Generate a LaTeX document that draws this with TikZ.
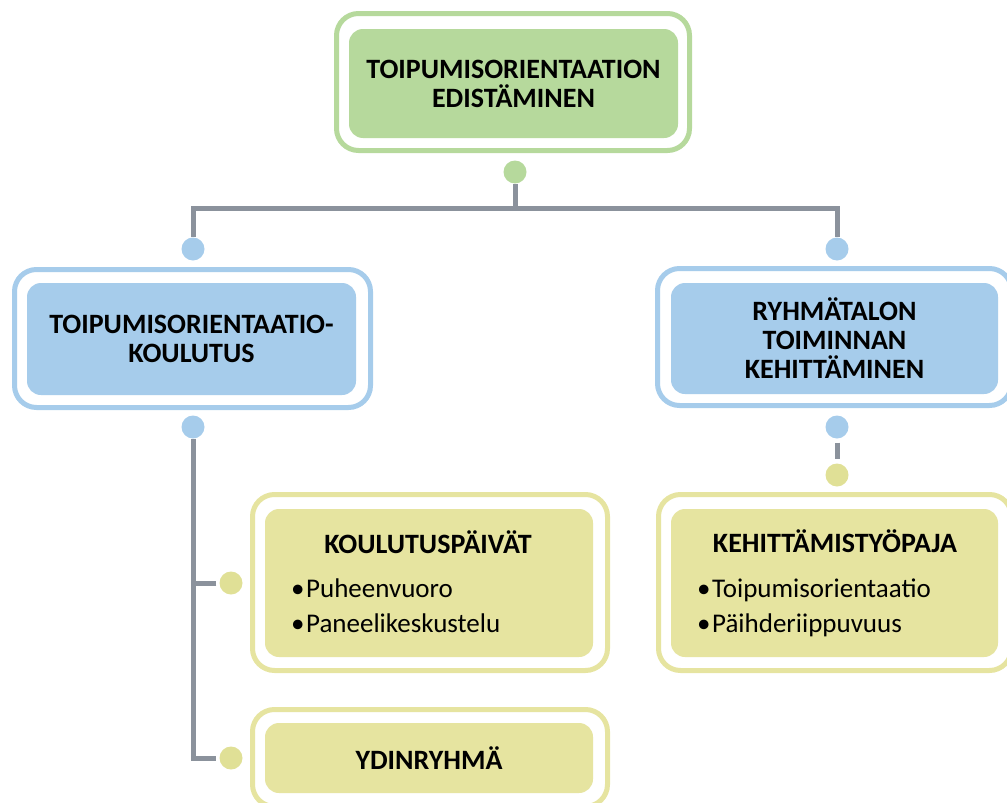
\documentclass[tikz,border=0pt]{standalone}
\usepackage{fontspec}
\setmainfont{Carlito}
\definecolor{gfill}{RGB}{182,217,156}
\definecolor{bfill}{RGB}{166,204,235}
\definecolor{yfill}{RGB}{230,228,160}
\definecolor{ydot}{RGB}{224,224,150}
\definecolor{linegray}{RGB}{139,146,156}
\tikzset{
  frame/.style={draw=#1, line width=5pt, rounded corners=22pt, fill=white, inner sep=0pt},
  card/.style={fill=#1, rounded corners=14pt, inner sep=0pt},
  knob/.style={circle, fill=#1, minimum size=23pt, inner sep=0pt},
  link/.style={draw=linegray, line width=5pt},
  heading/.style={font=\bfseries\fontsize{28}{29}\selectfont, align=center},
  bullet/.style={font=\fontsize{27}{30}\selectfont, anchor=base west, inner sep=0pt},
  title/.style={font=\bfseries\fontsize{28}{29}\selectfont, anchor=base, inner sep=0pt}
}
\newcommand{\itm}[1]{•\hspace{1.5pt}#1}
\begin{document}
\begin{tikzpicture}[x=1pt,y=-1pt]
\useasboundingbox (0,0) rectangle (1007,803);

% top level
\node[frame=gfill, minimum width=353pt, minimum height=137pt] (topframe) at (513,82) {};
\node[card=gfill, heading, minimum width=329pt, minimum height=109pt] (top) at (513.5,83.5)
  {TOIPUMISORIENTAATION\\EDISTÄMINEN};

% second level
\node[frame=bfill, minimum width=356pt, minimum height=138pt] (leftframe) at (192.5,338.5) {};
\node[card=bfill, heading, minimum width=329pt, minimum height=112pt] (left) at (191.5,339)
  {TOIPUMISORIENTAATIO-\\KOULUTUS};
\node[frame=bfill, minimum width=354pt, minimum height=137pt] (rightframe) at (834.5,337) {};
\node[card=bfill, heading, minimum width=327pt, minimum height=111pt] (right) at (834.5,338.5)
  {RYHMÄTALON\\TOIMINNAN\\KEHITTÄMINEN};

% third level
\node[frame=yfill, minimum width=355pt, minimum height=176pt] (kpframe) at (430,582.5) {};
\node[card=yfill, minimum width=328pt, minimum height=148pt] (kp) at (429,583) {};
\node[title] (kptitle) at (428,553) {KOULUTUSPÄIVÄT};
\node[bullet] (kpa) at (291,597) {\itm{Puheenvuoro}};
\node[bullet] (kpb) at (291,632) {\itm{Paneelikeskustelu}};

\node[frame=yfill, minimum width=355pt, minimum height=97pt] (ydframe) at (430,758) {};
\node[card=yfill, heading, minimum width=328pt, minimum height=70pt] (yd) at (429,758) {YDINRYHMÄ};

\node[frame=yfill, minimum width=353pt, minimum height=176pt] (ktframe) at (835,582.5) {};
\node[card=yfill, minimum width=327pt, minimum height=148pt] (kt) at (834.5,583) {};
\node[title] (kttitle) at (835,552) {KEHITTÄMISTYÖPAJA};
\node[bullet] (kta) at (697,597) {\itm{Toipumisorientaatio}};
\node[bullet] (ktb) at (697,632) {\itm{Päihderiippuvuus}};

% connector knobs
\node[knob=gfill] (gk) at (515,172) {};
\node[knob=bfill] (lk) at (193,249) {};
\node[knob=bfill] (rk) at (837,249) {};
\node[knob=bfill] (lbk) at (193,427) {};
\node[knob=bfill] (rbk) at (837,427) {};
\node[knob=ydot] (kpk) at (231,583) {};
\node[knob=ydot] (ydk) at (231,758) {};
\node[knob=ydot] (ktk) at (837,475) {};
\coordinate (hub) at (515,208);

% connectors
\draw[link] (gk.south) -- (hub);
\draw[link] (lk.north) |- (hub) -| (rk.north);
\draw[link] (lbk.south) |- ([xshift=-3pt]ydk.west);
\draw[link] ([xshift=-3pt]kpk.west) -- (kpk.west -| lbk);
\draw[link, shorten <=4pt, shorten >=4pt] (rbk.south) -- (ktk.north);
\end{tikzpicture}
\end{document}
